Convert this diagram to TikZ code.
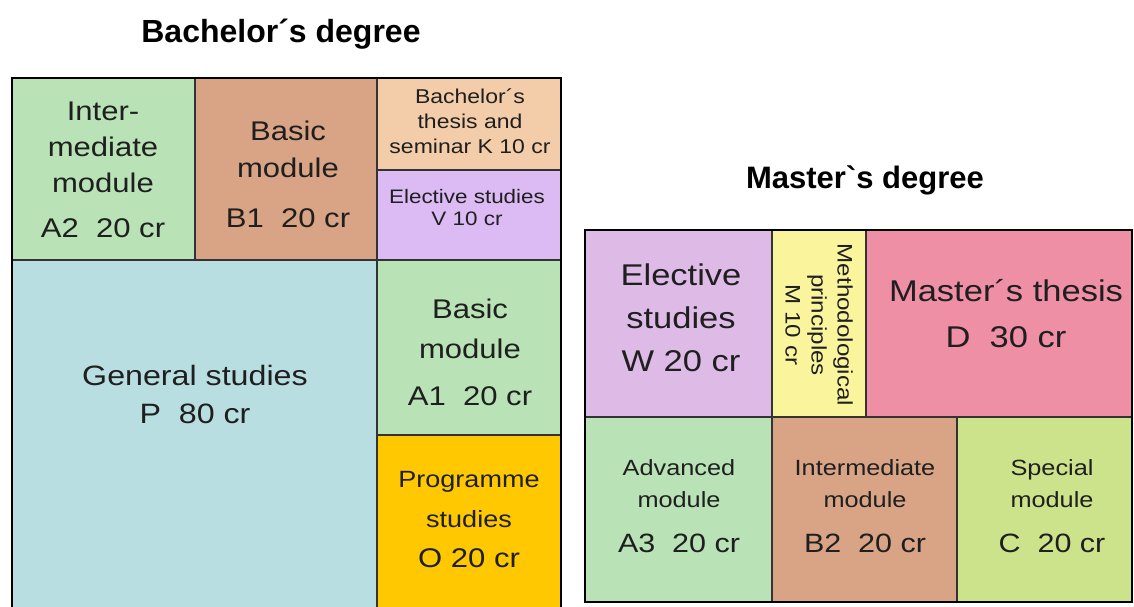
\documentclass[tikz,border=0pt]{standalone}
\usepackage{fontspec}
\setmainfont{Liberation Sans}[FakeStretch=1.15]
\newfontfamily\headfont{Liberation Sans}
\usepackage{tikz}
\usetikzlibrary{positioning}

\definecolor{modgreen}{HTML}{B9E3B6}
\definecolor{modtan}{HTML}{D9A485}
\definecolor{thesispeach}{HTML}{F3CDA9}
\definecolor{electviolet}{HTML}{DCBBF4}
\definecolor{electlilac}{HTML}{DDBBE6}
\definecolor{genblue}{HTML}{B8DEE2}
\definecolor{progorange}{HTML}{FFC800}
\definecolor{methyellow}{HTML}{FAF59D}
\definecolor{thesispink}{HTML}{EE8FA6}
\definecolor{speclime}{HTML}{CDE38B}

\newcommand{\fs}[2]{\fontsize{#1}{#2}\selectfont}

\tikzset{
  grid/.style={line width=1.5pt, draw=black!80},
  frame/.style={line width=2.5pt, draw=black},
  lbl/.style={anchor=base, align=center, inner sep=0pt, text=black!88},
  title/.style={anchor=base, inner sep=0pt, font=\headfont\bfseries\fs{32}{38}},
}

\begin{document}
\begin{tikzpicture}[x=1pt, y=-1pt]
  \useasboundingbox (0,0) rectangle (1134,606);
  % bachelor cells
  \fill[modgreen] (12,78) rectangle (195,260);
  \fill[modtan] (195,78) rectangle (377,260);
  \fill[thesispeach] (377,78) rectangle (561,170);
  \fill[electviolet] (377,170) rectangle (561,260);
  \fill[genblue] (12,260) rectangle (377,610);
  \fill[modgreen] (377,260) rectangle (561,435);
  \fill[progorange] (377,435) rectangle (561,610);
  \draw[grid] (195,78) -- (195,260) (12,260) -- (561,260) (377,78) -- (377,610)
    (377,170) -- (561,170) (377,435) -- (561,435);
  \draw[frame] (12,610) -- (12,78) -- (561,78) -- (561,610);
  % master cells
  \fill[electlilac] (585,230) rectangle (772,417);
  \fill[methyellow] (772,230) rectangle (866,417);
  \fill[thesispink] (866,230) rectangle (1132,417);
  \fill[modgreen] (585,417) rectangle (772,602);
  \fill[modtan] (772,417) rectangle (957,602);
  \fill[speclime] (957,417) rectangle (1132,602);
  \draw[grid] (585,417) -- (1132,417) (772,230) -- (772,417) (866,230) -- (866,417)
    (772,417) -- (772,602) (957,417) -- (957,602);
  \draw[frame] (585,230) rectangle (1132,602);
  % titles
  \node[title] (bachelor) at (281,42) {Bachelor´s degree};
  \node[title, font=\headfont\bfseries\fs{31}{38}] (master) at (865,188) {Master\textasciigrave s degree};
  % bachelor labels
  \node[lbl, font=\fs{27}{36}] (a2) at (103,237) {Inter-\\mediate\\module\\[9pt]A2~~20 cr};
  \node[lbl, font=\fs{27}{37}] (b1) at (288,227) {Basic\\module\\[13pt]B1~~20 cr};
  \node[lbl, font=\fs{20}{25}] (k) at (470,153) {Bachelor´s\\thesis and\\seminar K 10 cr};
  \node[lbl, font=\fs{19.5}{22}] (v) at (467,225) {Elective studies\\V 10 cr};
  \node[lbl, font=\fs{28}{38}] (p) at (195,423) {General studies\\P~~80 cr};
  \node[lbl, font=\fs{27}{40}] (a1) at (470,405) {Basic\\module\\[7pt]A1~~20 cr};
  \node[lbl, font=\fs{27}{40}] (o) at (469,567)
    {\fs{23.5}{40}Programme\\\fs{23.5}{40}studies\\\fs{27}{40}O 20 cr};
  % master labels
  \node[lbl, font=\fs{30}{43}] (w) at (681,371) {Elective\\studies\\W 20 cr};
  \node[lbl, anchor=center, rotate=-90, font=\fs{21}{26}] (m) at (819,325)
    {Methodological\\principles\\M 10 cr};
  \node[lbl, font=\fs{30}{46}] (d) at (1006,347) {Master´s thesis\\D~~30 cr};
  \node[lbl, font=\fs{22}{32}] (a3) at (679,552)
    {Advanced\\module\\[13pt]\fs{26.5}{32}A3~~20 cr};
  \node[lbl, font=\fs{22}{32}] (b2) at (865,552)
    {Intermediate\\module\\[13pt]\fs{26.5}{32}B2~~20 cr};
  \node[lbl, font=\fs{22}{32}] (c) at (1052,552)
    {Special\\module\\[13pt]\fs{26.5}{32}C~~20 cr};
\end{tikzpicture}
\end{document}
